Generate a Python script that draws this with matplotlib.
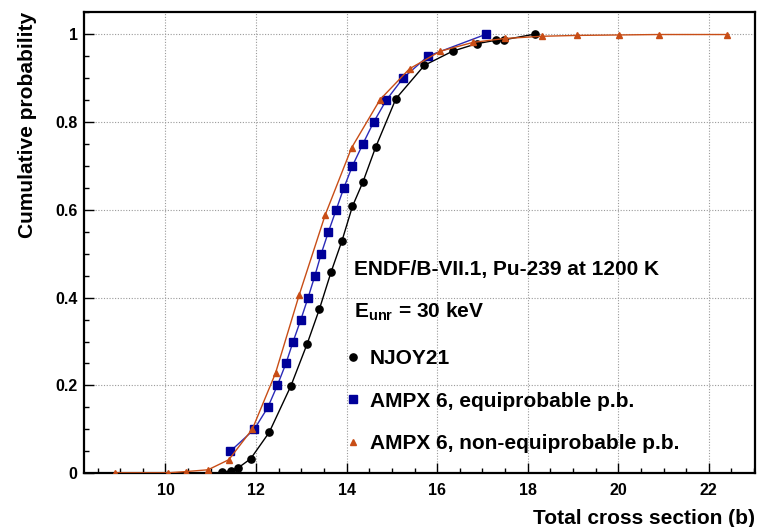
import matplotlib
matplotlib.use("Agg")
import matplotlib.pyplot as plt
from matplotlib.lines import Line2D
from matplotlib.ticker import MultipleLocator, FixedFormatter, FixedLocator

plt.rcParams['font.family'] = ['Liberation Sans', 'DejaVu Sans']
plt.rcParams['font.weight'] = 'bold'
plt.rcParams['mathtext.fontset'] = 'custom'
plt.rcParams['mathtext.rm'] = 'Liberation Sans:bold'
plt.rcParams['mathtext.bf'] = 'Liberation Sans:bold'

# NJOY21
njoy_x = [11.25, 11.44, 11.60, 11.88, 12.29, 12.77, 13.13, 13.40, 13.66, 13.90,
          14.13, 14.36, 14.64, 15.09, 15.72, 16.34, 16.87, 17.30, 17.48, 18.16]
njoy_y = [0.003, 0.005, 0.012, 0.033, 0.093, 0.199, 0.295, 0.374, 0.459, 0.530,
          0.608, 0.663, 0.742, 0.853, 0.929, 0.961, 0.978, 0.986, 0.987, 1.000]

# AMPX 6, equiprobable
equi_x = [11.43, 11.96, 12.26, 12.47, 12.66, 12.82, 12.99, 13.15, 13.30, 13.44,
          13.60, 13.77, 13.94, 14.13, 14.36, 14.60, 14.88, 15.25, 15.80, 17.09]
equi_y = [0.05, 0.10, 0.15, 0.20, 0.25, 0.30, 0.35, 0.40, 0.45, 0.50,
          0.55, 0.60, 0.65, 0.70, 0.75, 0.80, 0.85, 0.90, 0.95, 1.00]

# AMPX 6, non-equiprobable
neq_x = [8.88, 10.05, 10.46, 10.94, 11.40, 11.92, 12.43, 12.95, 13.53, 14.11,
         14.74, 15.39, 16.07, 16.79, 17.50, 18.31, 19.10, 20.02, 20.90, 22.40]
neq_y = [0.001, 0.001, 0.004, 0.008, 0.031, 0.101, 0.228, 0.405, 0.589, 0.741,
         0.851, 0.921, 0.961, 0.981, 0.990, 0.995, 0.997, 0.998, 0.999, 0.999]

x_ticks = [10, 12, 14, 16, 18, 20, 22]
y_ticks = [0, 0.2, 0.4, 0.6, 0.8, 1.0]
y_tick_labels = ["0", "0.2", "0.4", "0.6", "0.8", "1"]

black = "#000000"
blue_m = "#000099"
blue_l = "#2a2ab8"
orange = "#c84d16"

fig = plt.figure(figsize=(7.6, 5.27), dpi=100)
ax = fig.add_axes([0.1105, 0.1019, 0.8829, 0.8751])

ax.plot(njoy_x, njoy_y, color=black, lw=1.0, marker='o', ms=5.2, mfc=black, mec=black, zorder=3)
ax.plot(equi_x, equi_y, color=blue_l, lw=1.0, marker='s', ms=5.2, mfc=blue_m, mec=blue_m, zorder=4)
ax.plot(neq_x, neq_y, color=orange, lw=1.0, marker='^', ms=5.0, mfc=orange, mec=orange, zorder=5)

ax.set_xlim(8.2, 23.02)
ax.set_ylim(0, 1.05)
ax.xaxis.set_major_locator(FixedLocator(x_ticks))
ax.xaxis.set_minor_locator(MultipleLocator(0.5))
ax.yaxis.set_major_locator(FixedLocator(y_ticks))
ax.yaxis.set_major_formatter(FixedFormatter(y_tick_labels))
ax.yaxis.set_minor_locator(MultipleLocator(0.05))

ax.grid(True, which='major', color='#9a9a9a', ls=(0, (1, 1.5)), lw=0.8)
ax.set_axisbelow(True)
for s in ax.spines.values():
    s.set_linewidth(1.6)

ax.tick_params(which='both', direction='in', top=False, right=False, labelsize=11.5)
ax.tick_params(which='major', length=7, width=1)
ax.tick_params(which='minor', length=3.5, width=1)
ax.tick_params(axis='x', pad=7)
ax.tick_params(axis='y', pad=4.5)
for lab in ax.get_xticklabels() + ax.get_yticklabels():
    lab.set_fontweight('bold')

ax.set_xlabel("Total cross section (b)", fontsize=15, fontweight='bold')
ax.xaxis.set_label_coords(1.0, -0.078)
ax.xaxis.label.set_horizontalalignment('right')
ax.set_ylabel("Cumulative probability", fontsize=15, fontweight='bold')
ax.yaxis.set_label_coords(-0.070, 1.0)
ax.yaxis.label.set_horizontalalignment('right')

ax.text(0.402, 0.430, "ENDF/B-VII.1, Pu-239 at 1200 K", transform=ax.transAxes,
        fontsize=15, fontweight='bold', va='baseline', ha='left')
ax.text(0.402, 0.339, r"E$_{\mathbf{unr}}$ = 30 keV", transform=ax.transAxes,
        fontsize=15, fontweight='bold', va='baseline', ha='left')

handles = [Line2D([], [], ls='none', marker='o', ms=5.2, color=black),
           Line2D([], [], ls='none', marker='s', ms=5.2, color=blue_m),
           Line2D([], [], ls='none', marker='^', ms=5.0, color=orange)]
labels = ["NJOY21", "AMPX 6, equiprobable p.b.", "AMPX 6, non-equiprobable p.b."]
leg = ax.legend(handles, labels, loc='upper left', bbox_to_anchor=(0.392, 0.269),
                frameon=False, handlelength=0.6, handletextpad=0.5, labelspacing=1.12,
                borderpad=0.0, borderaxespad=0.0, prop={'size': 15, 'weight': 'bold'})

fig.savefig("out.png", dpi=100)
